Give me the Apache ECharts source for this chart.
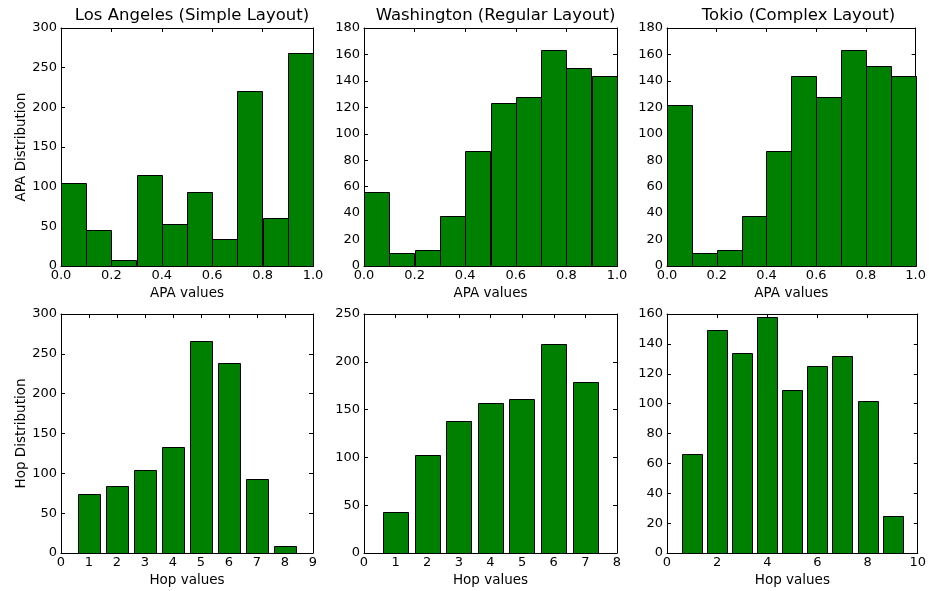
<!DOCTYPE html>
<html>
<head>
<meta charset="utf-8">
<script src="https://cdn.jsdelivr.net/npm/echarts@6/dist/echarts.min.js"></script>
<style>html,body{margin:0;padding:0;background:#fff}#c{width:929px;height:591px}</style>
</head>
<body>
<div id="c"></div>
<script>
// ---- data ----
var titles = ['Los Angeles (Simple Layout)', 'Washington (Regular Layout)', 'Tokio (Complex Layout)'];
var apaBinEdges = [0.0, 0.1, 0.2, 0.3, 0.4, 0.5, 0.6, 0.7, 0.8, 0.9, 1.0];
var apaLosAngeles = [104, 46, 7, 115, 53, 93, 34, 221, 60, 268];
var apaWashington = [56, 10, 12, 38, 87, 123, 128, 163, 150, 144];
var apaTokio = [122, 10, 12, 38, 87, 144, 128, 163, 151, 144];

var hopLosAngelesX = [1, 2, 3, 4, 5, 6, 7, 8];
var hopLosAngeles = [74, 84, 104, 133, 266, 238, 93, 9];
var hopWashingtonX = [1, 2, 3, 4, 5, 6, 7];
var hopWashington = [43, 103, 138, 157, 161, 219, 179];
var hopTokioX = [1, 2, 3, 4, 5, 6, 7, 8, 9];
var hopTokio = [66, 149, 134, 158, 109, 125, 132, 102, 25];

var apaYMax = [300, 180, 180];
var apaYInterval = [50, 20, 20];
var hopXMax = [9, 8, 10];
var hopXInterval = [1, 1, 2];
var hopYMax = [300, 250, 160];
var hopYInterval = [50, 50, 20];
var hopBarWidth = 0.8;

// ---- layout ----
var gridLefts = [61, 364, 667];
var gridWidths = [252, 253, 253];
var rowTops = [28, 314];
var rowHeights = [238, 239];

var FONT = '"DejaVu Sans", sans-serif';
var TXT = '#000';
var TICK_FS = 13, NAME_FS = 13.5, TITLE_FS = 16.5;

function histData(edges, vals) {
  return vals.map(function (v, i) { return [edges[i], edges[i + 1], v]; });
}
function barData(xs, vals, w) {
  return xs.map(function (x, i) { return [x - w / 2, x + w / 2, vals[i]]; });
}

function renderRect(params, api) {
  var x0 = api.value(0), x1 = api.value(1), y = api.value(2);
  var p0 = api.coord([x0, y]);
  var p1 = api.coord([x1, 0]);
  return {
    type: 'rect',
    shape: { x: Math.round(p0[0]) + 0.5, y: Math.round(p0[1]) + 0.5, width: Math.round(p1[0] - p0[0]), height: Math.round(p1[1] - p0[1]) },
    style: { fill: '#008000', stroke: '#000', lineWidth: 1 }
  };
}

function makeFormatter(decimals) {
  return function (v) { return decimals ? Number(v).toFixed(decimals) : String(v); };
}

var grids = [], xAxes = [], yAxes = [], series = [], titleOpts = [];
var apaSets = [apaLosAngeles, apaWashington, apaTokio];
var hopSets = [[hopLosAngelesX, hopLosAngeles], [hopWashingtonX, hopWashington], [hopTokioX, hopTokio]];

function tickStyle() {
  return { show: true, inside: true, length: 4, lineStyle: { color: '#000', width: 1 } };
}
function lineStyle() {
  return { show: true, onZero: false, lineStyle: { color: '#000', width: 1 } };
}

for (var r = 0; r < 2; r++) {
  for (var c = 0; c < 3; c++) {
    var gi = grids.length;
    grids.push({ left: gridLefts[c], top: rowTops[r], width: gridWidths[c], height: rowHeights[r], containLabel: false });
    var xmin = 0, xmax, xint, ymax, yint, xname, yname;
    if (r === 0) { xmax = 1; xint = 0.2; ymax = apaYMax[c]; yint = apaYInterval[c]; xname = 'APA values'; yname = 'APA Distribution'; }
    else { xmax = hopXMax[c]; xint = hopXInterval[c]; ymax = hopYMax[c]; yint = hopYInterval[c]; xname = 'Hop values'; yname = 'Hop Distribution'; }
    xAxes.push({
      type: 'value', gridIndex: gi, min: xmin, max: xmax, interval: xint, position: 'bottom',
      name: xname, nameLocation: 'middle', nameGap: 20,
      nameTextStyle: { fontFamily: FONT, fontSize: NAME_FS, color: TXT },
      axisLine: lineStyle(), axisTick: tickStyle(), splitLine: { show: false },
      axisLabel: { show: true, margin: 3, fontFamily: FONT, fontSize: TICK_FS, color: TXT, showMinLabel: true, showMaxLabel: true,
        hideOverlap: false, formatter: makeFormatter(r === 0 ? 1 : 0) }
    });
    xAxes.push({
      type: 'value', gridIndex: gi, min: xmin, max: xmax, interval: xint, position: 'top',
      axisLine: lineStyle(), axisTick: tickStyle(), splitLine: { show: false }, axisLabel: { show: false }
    });
    yAxes.push({
      type: 'value', gridIndex: gi, min: 0, max: ymax, interval: yint, position: 'left',
      name: c === 0 ? yname : '', nameLocation: 'middle', nameGap: 32, nameRotate: 90,
      nameTextStyle: { fontFamily: FONT, fontSize: NAME_FS, color: TXT },
      axisLine: lineStyle(), axisTick: tickStyle(), splitLine: { show: false },
      axisLabel: { show: true, margin: 4, fontFamily: FONT, fontSize: TICK_FS, color: TXT, showMinLabel: true, showMaxLabel: true }
    });
    yAxes.push({
      type: 'value', gridIndex: gi, min: 0, max: ymax, interval: yint, position: 'right',
      axisLine: lineStyle(), axisTick: tickStyle(), splitLine: { show: false }, axisLabel: { show: false }
    });
    var data = r === 0 ? histData(apaBinEdges, apaSets[c]) : barData(hopSets[c][0], hopSets[c][1], hopBarWidth);
    series.push({
      type: 'custom', xAxisIndex: gi * 2, yAxisIndex: gi * 2, renderItem: renderRect,
      encode: { x: [0, 1], y: 2 }, data: data, silent: true, animation: false, clip: false
    });
    if (r === 0) {
      titleOpts.push({
        text: titles[c], left: gridLefts[c] + gridWidths[c] / 2, top: 2, textAlign: 'center',
        textStyle: { fontFamily: FONT, fontSize: TITLE_FS, fontWeight: 'normal', color: TXT }
      });
    }
  }
}

var chart = echarts.init(document.getElementById('c'), null, { renderer: 'canvas' });
chart.setOption({
  animation: false,
  backgroundColor: '#fff',
  title: titleOpts,
  grid: grids,
  xAxis: xAxes,
  yAxis: yAxes,
  series: series
});
</script>
</body>
</html>
